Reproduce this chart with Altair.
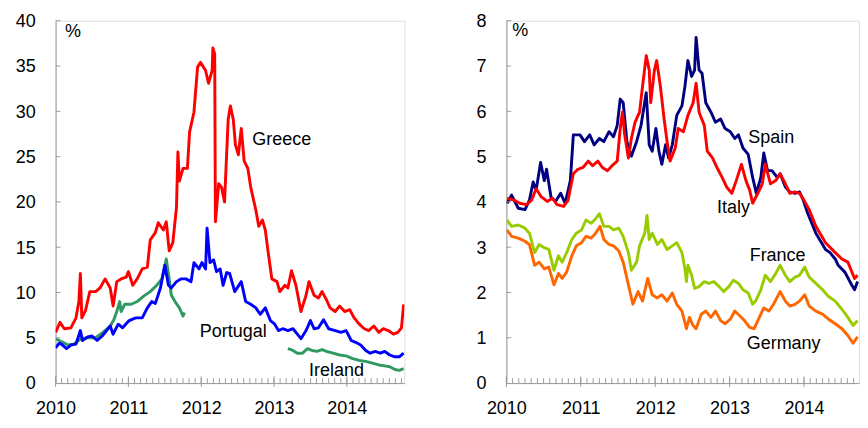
import altair as alt
import pandas as pd

FONT = "Liberation Sans"
AXIS_GREY = "#9a9a9a"
FS = 18.5

# ---------------- Left panel data ----------------
GR_T = [2010.00, 2010.06, 2010.12, 2010.21, 2010.28, 2010.32, 2010.34, 2010.36, 2010.41, 2010.47,
        2010.55, 2010.61, 2010.68, 2010.75, 2010.79, 2010.84, 2010.90, 2010.97, 2011.00, 2011.06,
        2011.12, 2011.19, 2011.26, 2011.30, 2011.37, 2011.41, 2011.48, 2011.52, 2011.56, 2011.61,
        2011.66, 2011.68, 2011.70, 2011.75, 2011.81, 2011.84, 2011.90, 2011.95, 2011.99, 2012.06,
        2012.10, 2012.15, 2012.16, 2012.185, 2012.195, 2012.24, 2012.28, 2012.32, 2012.37, 2012.40,
        2012.44, 2012.47, 2012.51, 2012.55, 2012.59, 2012.64, 2012.68, 2012.75, 2012.79, 2012.84,
        2012.88, 2012.92, 2012.97, 2013.04, 2013.08, 2013.15, 2013.19, 2013.24, 2013.30, 2013.37,
        2013.44, 2013.48, 2013.55, 2013.61, 2013.66, 2013.72, 2013.77, 2013.84, 2013.90, 2013.97,
        2014.04, 2014.10, 2014.17, 2014.24, 2014.30, 2014.37, 2014.44, 2014.50, 2014.57, 2014.64,
        2014.70, 2014.75, 2014.78]
GR_V = [5.6, 6.7, 6.0, 6.1, 7.2, 9.0, 12.1, 7.2, 8.0, 10.1,
        10.1, 10.5, 11.5, 10.5, 8.5, 11.2, 11.5, 11.7, 12.3, 10.8,
        11.5, 12.6, 12.8, 15.8, 16.6, 17.7, 16.9, 17.8, 14.6, 15.5,
        19.4, 25.5, 22.3, 23.7, 23.7, 27.7, 29.9, 34.9, 35.4, 34.5,
        33.1, 34.5, 37.0, 36.3, 17.8, 22.0, 21.6, 20.0, 29.1, 30.6,
        29.1, 26.3, 25.2, 28.1, 24.5, 23.7, 21.6, 19.1, 17.3, 18.0,
        16.9, 14.4, 11.5, 11.2, 10.1, 10.8, 10.5, 12.4, 10.8, 7.9,
        9.7, 11.2, 9.7, 9.4, 10.1, 9.2, 8.3, 7.9, 8.5, 7.9,
        8.1, 7.2, 6.5, 6.0, 5.8, 6.3, 5.6, 6.0, 5.8, 5.4,
        5.6, 6.1, 8.7]

PT_T = [2010.00, 2010.05, 2010.08, 2010.15, 2010.21, 2010.28, 2010.34, 2010.37, 2010.44, 2010.50,
        2010.57, 2010.64, 2010.70, 2010.75, 2010.79, 2010.86, 2010.92, 2011.01, 2011.10, 2011.19,
        2011.26, 2011.32, 2011.37, 2011.44, 2011.50, 2011.55, 2011.59, 2011.66, 2011.72, 2011.79,
        2011.86, 2011.90, 2011.97, 2012.01, 2012.06, 2012.08, 2012.12, 2012.17, 2012.21, 2012.26,
        2012.30, 2012.35, 2012.39, 2012.46, 2012.55, 2012.61, 2012.68, 2012.75, 2012.81, 2012.88,
        2012.95, 2013.01, 2013.06, 2013.12, 2013.19, 2013.26, 2013.32, 2013.37, 2013.44, 2013.50,
        2013.55, 2013.61, 2013.68, 2013.75, 2013.84, 2013.92, 2013.99, 2014.06, 2014.12, 2014.19,
        2014.26, 2014.32, 2014.39, 2014.46, 2014.52, 2014.59, 2014.66, 2014.72, 2014.78]
PT_V = [3.9, 4.4, 4.3, 3.8, 4.2, 4.3, 5.8, 4.7, 5.1, 5.2,
        4.7, 5.2, 5.8, 6.3, 5.4, 6.5, 6.1, 6.9, 7.2, 7.2,
        8.3, 9.0, 8.8, 10.5, 13.0, 10.8, 10.5, 11.2, 11.5, 11.5,
        11.2, 13.3, 12.6, 13.3, 12.6, 17.1, 13.3, 13.6, 12.3, 12.6,
        10.8, 12.2, 12.1, 10.1, 11.2, 9.0, 8.7, 8.3, 7.6, 8.3,
        6.9, 6.5, 5.8, 6.0, 5.8, 6.0, 5.4, 4.9, 5.8, 6.9,
        6.0, 6.1, 7.0, 6.0, 5.8, 5.6, 5.8, 4.7, 4.5, 4.2,
        3.6, 3.3, 3.5, 3.3, 3.5, 3.1, 2.9, 2.9, 3.3]

IE1_T = [2010.00, 2010.05, 2010.10, 2010.17, 2010.25, 2010.35, 2010.45, 2010.55, 2010.65, 2010.75,
         2010.80, 2010.84, 2010.88, 2010.90, 2010.95, 2011.04, 2011.12, 2011.21, 2011.30, 2011.39,
         2011.46, 2011.52, 2011.56, 2011.59, 2011.64, 2011.70, 2011.75, 2011.77]
IE1_V = [4.9, 4.7, 4.5, 4.2, 4.3, 4.9, 5.0, 5.0, 5.6, 6.3,
         7.0, 7.9, 9.0, 7.9, 8.7, 8.7, 9.0, 9.6, 10.1, 10.8,
         11.5, 13.7, 11.5, 9.7, 9.0, 8.3, 7.4, 7.8]
IE2_T = [2013.19, 2013.26, 2013.32, 2013.39, 2013.46, 2013.52, 2013.59, 2013.66, 2013.72, 2013.81,
         2013.90, 2013.99, 2014.08, 2014.17, 2014.26, 2014.35, 2014.44, 2014.52, 2014.59, 2014.66,
         2014.72, 2014.78]
IE2_V = [3.8, 3.6, 3.3, 3.3, 3.8, 3.6, 3.5, 3.7, 3.5, 3.3,
         3.1, 3.0, 2.7, 2.5, 2.4, 2.2, 2.0, 1.9, 1.8, 1.5,
         1.4, 1.6]

# ---------------- Right panel data ----------------
ES_T = [2010.01, 2010.07, 2010.16, 2010.25, 2010.31, 2010.36, 2010.40, 2010.46, 2010.51, 2010.54,
        2010.60, 2010.66, 2010.73, 2010.79, 2010.86, 2010.90, 2010.99, 2011.05, 2011.12, 2011.18,
        2011.25, 2011.31, 2011.38, 2011.44, 2011.49, 2011.53, 2011.57, 2011.62, 2011.68, 2011.75,
        2011.81, 2011.88, 2011.92, 2011.96, 2012.01, 2012.05, 2012.09, 2012.14, 2012.18, 2012.23,
        2012.29, 2012.36, 2012.40, 2012.44, 2012.49, 2012.53, 2012.55, 2012.59, 2012.63, 2012.68,
        2012.75, 2012.81, 2012.88, 2012.94, 2013.01, 2013.07, 2013.12, 2013.18, 2013.25, 2013.31,
        2013.36, 2013.42, 2013.46, 2013.51, 2013.57, 2013.64, 2013.68, 2013.75, 2013.81, 2013.88,
        2013.94, 2013.99, 2014.05, 2014.16, 2014.29, 2014.35, 2014.42, 2014.46, 2014.55, 2014.64,
        2014.68, 2014.72]
ES_V = [3.97, 4.15, 3.86, 3.83, 4.04, 4.44, 4.26, 4.87, 4.47, 4.72,
        4.11, 4.01, 4.19, 3.97, 4.47, 5.48, 5.48, 5.33, 5.48, 5.26,
        5.40, 5.33, 5.55, 5.44, 5.69, 6.27, 6.19, 5.33, 5.01, 5.33,
        5.69, 6.41, 5.26, 5.12, 5.62, 5.12, 4.83, 5.26, 4.97, 5.26,
        5.91, 6.12, 6.55, 7.12, 6.77, 6.91, 7.63, 6.91, 6.84, 6.19,
        5.98, 5.76, 5.83, 5.62, 5.55, 5.40, 5.48, 5.19, 5.05, 4.54,
        4.19, 4.54, 5.08, 4.69, 4.69, 4.54, 4.62, 4.33, 4.22, 4.19,
        4.22, 4.04, 3.75, 3.31, 2.95, 2.88, 2.74, 2.60, 2.45, 2.17,
        2.06, 2.24]

IT_T = [2010.01, 2010.10, 2010.18, 2010.27, 2010.34, 2010.40, 2010.47, 2010.55, 2010.62, 2010.68,
        2010.77, 2010.83, 2010.90, 2010.96, 2011.03, 2011.10, 2011.16, 2011.23, 2011.29, 2011.36,
        2011.42, 2011.49, 2011.53, 2011.56, 2011.59, 2011.64, 2011.68, 2011.73, 2011.79, 2011.83,
        2011.88, 2011.92, 2011.94, 2011.99, 2012.02, 2012.07, 2012.12, 2012.16, 2012.20, 2012.27,
        2012.31, 2012.38, 2012.44, 2012.51, 2012.55, 2012.59, 2012.66, 2012.70, 2012.77, 2012.83,
        2012.90, 2012.96, 2013.03, 2013.09, 2013.16, 2013.22, 2013.27, 2013.31, 2013.38, 2013.44,
        2013.48, 2013.55, 2013.62, 2013.68, 2013.75, 2013.81, 2013.88, 2013.94, 2014.00, 2014.07,
        2014.16, 2014.29, 2014.42, 2014.51, 2014.59, 2014.68, 2014.72]
IT_V = [4.08, 4.04, 3.97, 3.94, 4.04, 4.29, 4.11, 4.01, 4.08, 3.94,
        3.90, 4.04, 4.62, 4.72, 4.76, 4.90, 4.80, 4.90, 4.76, 4.69,
        4.80, 4.90, 5.62, 5.98, 5.48, 4.97, 5.40, 5.76, 5.98, 6.55,
        7.23, 6.91, 6.19, 6.91, 7.12, 6.55, 5.83, 5.33, 4.90, 5.19,
        5.62, 5.55, 5.91, 6.19, 6.62, 5.98, 5.69, 5.12, 4.97, 4.76,
        4.54, 4.33, 4.19, 4.47, 4.83, 4.47, 4.26, 3.97, 4.19, 4.40,
        4.83, 4.40, 4.47, 4.62, 4.40, 4.19, 4.22, 4.19, 4.04, 3.83,
        3.46, 3.10, 2.88, 2.74, 2.67, 2.31, 2.38]

FR_T = [2010.01, 2010.07, 2010.16, 2010.25, 2010.31, 2010.38, 2010.44, 2010.51, 2010.57, 2010.64,
        2010.70, 2010.75, 2010.81, 2010.88, 2010.94, 2011.01, 2011.07, 2011.14, 2011.20, 2011.25,
        2011.31, 2011.38, 2011.44, 2011.51, 2011.57, 2011.64, 2011.68, 2011.75, 2011.79, 2011.86,
        2011.89, 2011.92, 2011.96, 2012.03, 2012.09, 2012.16, 2012.23, 2012.29, 2012.36, 2012.40,
        2012.42, 2012.44, 2012.49, 2012.53, 2012.59, 2012.66, 2012.72, 2012.79, 2012.86, 2012.92,
        2012.99, 2013.05, 2013.12, 2013.18, 2013.25, 2013.31, 2013.35, 2013.42, 2013.48, 2013.55,
        2013.62, 2013.68, 2013.75, 2013.81, 2013.88, 2013.94, 2014.01, 2014.07, 2014.16, 2014.25,
        2014.33, 2014.42, 2014.51, 2014.59, 2014.66, 2014.72]
FR_V = [3.60, 3.46, 3.49, 3.42, 3.31, 2.88, 3.06, 2.99, 2.95, 2.49,
        2.81, 2.67, 2.88, 3.17, 3.31, 3.38, 3.60, 3.53, 3.63, 3.74,
        3.46, 3.46, 3.38, 3.42, 3.24, 2.88, 2.49, 2.67, 3.03, 3.31,
        3.70, 3.17, 3.31, 3.06, 3.17, 2.95, 3.03, 3.10, 2.88, 2.52,
        2.24, 2.60, 2.38, 2.09, 2.13, 2.24, 2.20, 2.24, 2.13, 2.02,
        2.13, 2.27, 2.20, 2.06, 1.99, 1.74, 1.81, 2.06, 2.38, 2.24,
        2.42, 2.60, 2.38, 2.24, 2.34, 2.38, 2.56, 2.34, 2.20, 2.06,
        1.91, 1.81, 1.63, 1.45, 1.27, 1.38]

DE_T = [2010.01, 2010.07, 2010.16, 2010.25, 2010.31, 2010.38, 2010.44, 2010.51, 2010.57, 2010.64,
        2010.70, 2010.75, 2010.81, 2010.88, 2010.94, 2011.01, 2011.07, 2011.14, 2011.20, 2011.26,
        2011.31, 2011.38, 2011.44, 2011.51, 2011.57, 2011.64, 2011.70, 2011.77, 2011.83, 2011.90,
        2011.96, 2012.03, 2012.09, 2012.16, 2012.23, 2012.29, 2012.36, 2012.42, 2012.46, 2012.51,
        2012.55, 2012.62, 2012.68, 2012.75, 2012.81, 2012.88, 2012.94, 2013.01, 2013.07, 2013.14,
        2013.20, 2013.27, 2013.33, 2013.40, 2013.46, 2013.53, 2013.59, 2013.68, 2013.75, 2013.81,
        2013.88, 2013.94, 2014.01, 2014.07, 2014.16, 2014.25, 2014.33, 2014.42, 2014.51, 2014.59,
        2014.66, 2014.72]
DE_V = [3.38, 3.24, 3.20, 3.13, 3.06, 2.60, 2.67, 2.52, 2.56, 2.17,
        2.42, 2.31, 2.45, 2.81, 3.03, 3.10, 3.24, 3.20, 3.31, 3.46,
        3.17, 3.06, 3.03, 2.92, 2.67, 2.17, 1.74, 2.02, 1.81, 2.31,
        1.95, 1.88, 1.95, 1.81, 1.99, 1.74, 1.59, 1.20, 1.45, 1.27,
        1.20, 1.52, 1.59, 1.45, 1.59, 1.38, 1.31, 1.41, 1.59, 1.48,
        1.38, 1.23, 1.20, 1.45, 1.66, 1.59, 1.74, 2.02, 1.81, 1.70,
        1.74, 1.81, 1.95, 1.70, 1.59, 1.52, 1.41, 1.31, 1.20, 1.05,
        0.88, 1.02]

YEARS = [2010, 2011, 2012, 2013, 2014]

LEFT_LABELS = ["Greece", "Portugal", "Ireland", "%"]
LEFT_LABEL_T = [2012.70, 2011.98, 2013.48, 2010.13]
LEFT_LABEL_V = [26.9, 5.7, 1.4, 38.9]

RIGHT_LABELS = ["Spain", "Italy", "France", "Germany", "%"]
RIGHT_LABEL_T = [2013.25, 2012.83, 2013.27, 2013.23, 2010.08]
RIGHT_LABEL_V = [5.42, 3.89, 2.83, 0.88, 7.8]


def series_df(t, v, seg=0):
    return pd.DataFrame({"t": t, "v": v, "seg": seg})


def panel(series, labels, xmax, ymax, ystep, width, height):
    xs = alt.Scale(domain=[2010, xmax], nice=False, zero=False)
    ys = alt.Scale(domain=[0, ymax], nice=False, zero=True)
    x_axis = alt.Axis(values=YEARS, format="d", title=None, ticks=False, grid=False,
                      domainColor=AXIS_GREY, domainWidth=1, labelFont=FONT, labelFontSize=FS,
                      labelColor="#000000", labelPadding=16, labelFlush=False)
    y_axis = alt.Axis(values=list(range(0, ymax + 1, ystep)), title=None, ticks=False, grid=False,
                      domainColor=AXIS_GREY, domainWidth=1, labelFont=FONT, labelFontSize=FS,
                      labelColor="#000000", labelPadding=21)
    X = lambda: alt.X("t:Q", scale=xs, axis=x_axis)
    Y = lambda: alt.Y("v:Q", scale=ys, axis=y_axis)

    layers = []
    for df, color in series:
        layers.append(
            alt.Chart(df).mark_line(color=color, strokeWidth=3, strokeJoin="round", clip=True)
            .encode(x=X(), y=Y(), detail="seg:N")
        )

    # inward axis ticks
    months = pd.DataFrame({"t": [2010 + m / 12 for m in range(int((xmax - 2010) * 12) + 1)]})
    years = pd.DataFrame({"t": YEARS})
    yt = pd.DataFrame({"v": list(range(ystep, ymax + 1, ystep))})
    layers.append(
        alt.Chart(months).mark_rule(color=AXIS_GREY, strokeWidth=1)
        .encode(x=X(), y=alt.value(height - 5), y2=alt.value(height))
    )
    layers.append(
        alt.Chart(years).mark_rule(color=AXIS_GREY, strokeWidth=1)
        .encode(x=X(), y=alt.value(height - 7), y2=alt.value(height + 4))
    )
    layers.append(
        alt.Chart(yt).mark_rule(color=AXIS_GREY, strokeWidth=1)
        .encode(y=Y(), x=alt.value(0), x2=alt.value(5))
    )
    names, lt, lv = labels
    ldf = pd.DataFrame({"label": names, "t": lt, "v": lv})
    layers.append(
        alt.Chart(ldf).mark_text(align="left", baseline="middle", font=FONT, fontSize=FS, color="#000000")
        .encode(x=X(), y=Y(), text="label:N")
    )
    return alt.layer(*layers).properties(width=width, height=height)


left = panel(
    [
        (series_df(IE1_T, IE1_V, 0), "#2e9960"),
        (series_df(IE2_T, IE2_V, 1), "#2e9960"),
        (series_df(PT_T, PT_V), "#0000ff"),
        (series_df(GR_T, GR_V), "#ff0000"),
    ],
    (LEFT_LABELS, LEFT_LABEL_T, LEFT_LABEL_V),
    xmax=2014.79, ymax=40, ystep=5, width=359, height=373,
)

right = panel(
    [
        (series_df(DE_T, DE_V), "#ff6600"),
        (series_df(FR_T, FR_V), "#99cc00"),
        (series_df(ES_T, ES_V), "#000080"),
        (series_df(IT_T, IT_V), "#ff0000"),
    ],
    (RIGHT_LABELS, RIGHT_LABEL_T, RIGHT_LABEL_V),
    xmax=2014.74, ymax=8, ystep=1, width=363, height=373,
)

chart = (
    alt.hconcat(left, right, spacing=72)
    .properties(padding={"left": 6, "top": -3, "right": 0, "bottom": 0})
    .configure_view(stroke=None)
    .configure(background="#ffffff")
)

chart.save("out.html", embed_options={"renderer": "svg", "actions": False})
